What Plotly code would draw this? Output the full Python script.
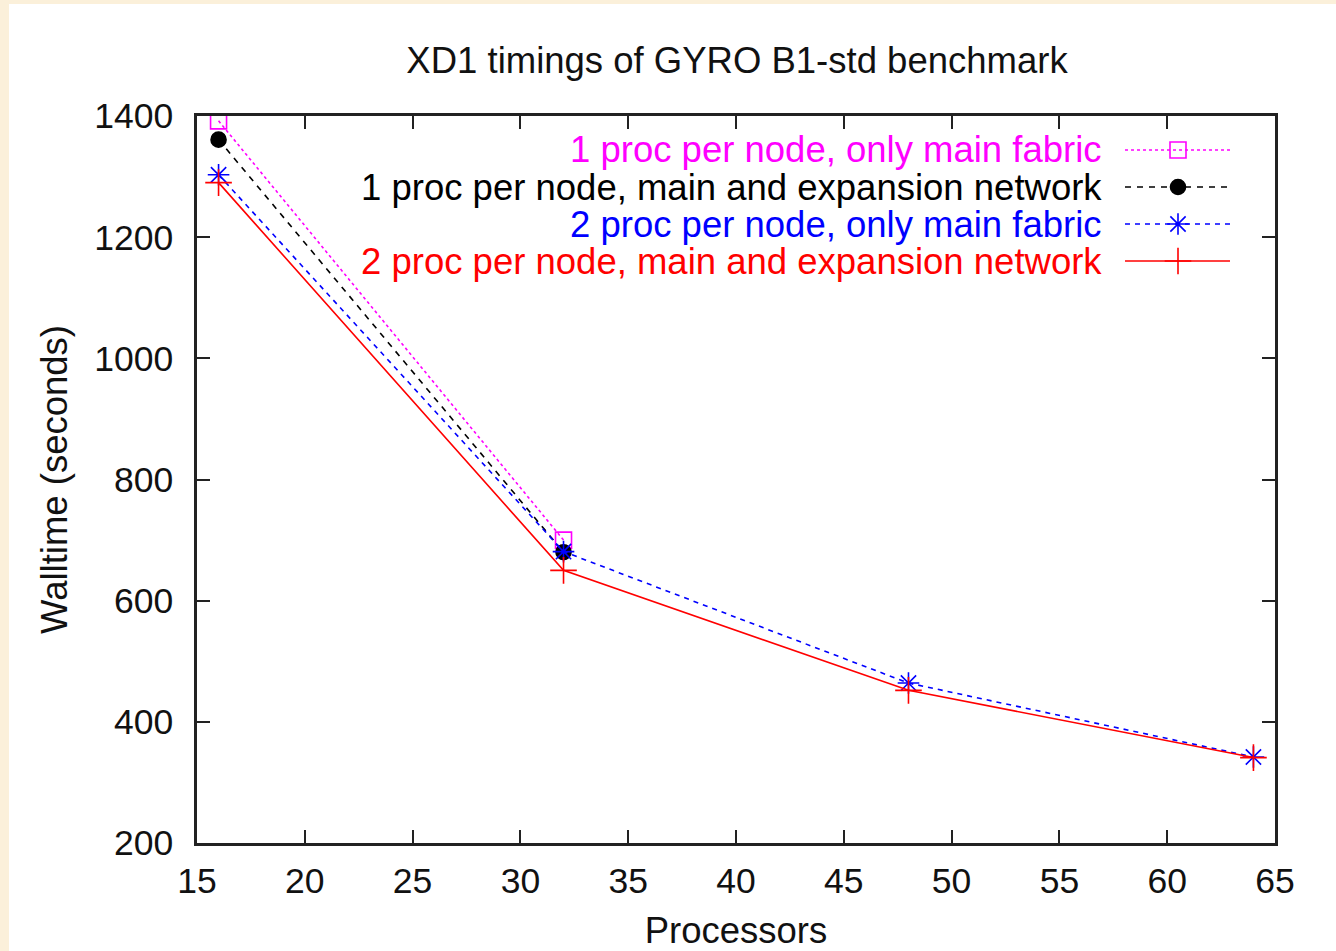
import plotly.graph_objects as go

# ---- data ----
procs_1ppn = [16, 32]
procs_2ppn = [16, 32, 48, 64]
t_1ppn_main = [1392, 700]
t_1ppn_main_exp = [1361, 680]
t_2ppn_main = [1303, 681, 464, 342]
t_2ppn_main_exp = [1290, 650, 452, 341]

labels = [
    "1 proc per node, only main fabric",
    "1 proc per node, main and expansion network",
    "2 proc per node, only main fabric",
    "2 proc per node, main and expansion network",
]
colors = ["#ff00ff", "#000000", "#0000ff", "#ff0000"]
dashes = ["dot", "6px,6px", "5px,5px", "solid"]
symbols = ["square-open", "circle", "asterisk-open", "cross-thin-open"]
msizes = [16, 15, 18, 19]

series_x = [procs_1ppn, procs_1ppn, procs_2ppn, procs_2ppn]
series_y = [t_1ppn_main, t_1ppn_main_exp, t_2ppn_main, t_2ppn_main_exp]

FONT = "Liberation Sans, Arial, sans-serif"
W, H = 1336, 951
L, R, T, B = 197, 61, 116, 108
pw, ph = W - L - R, H - T - B

def px2fx(px):
    return (px - L) / pw

def py2fy(py):
    return (H - B - py) / ph

fig = go.Figure()
for i in range(4):
    fig.add_trace(go.Scatter(
        x=series_x[i], y=series_y[i], mode="lines+markers",
        line=dict(color=colors[i], width=1.6, dash=dashes[i]),
        marker=dict(symbol=symbols[i], size=msizes[i], color=colors[i],
                    line=dict(color=colors[i], width=1.6)),
        showlegend=False, name=labels[i]))

# custom legend (text right, sample on the right) drawn on an overlay axis
row_py = [150, 187, 224, 261]
lx0, lx1, lxm = px2fx(1125), px2fx(1230), px2fx(1178)
for i in range(4):
    fy = py2fy(row_py[i])
    fig.add_trace(go.Scatter(
        x=[lx0, lxm, lx1], y=[fy, fy, fy], xaxis="x2", yaxis="y2",
        mode="lines", line=dict(color=colors[i], width=1.6, dash=dashes[i]),
        showlegend=False, hoverinfo="skip"))
    fig.add_trace(go.Scatter(
        x=[lxm], y=[fy], xaxis="x2", yaxis="y2", mode="markers",
        marker=dict(symbol=symbols[i], size=msizes[i], color=colors[i],
                    line=dict(color=colors[i], width=1.6)),
        showlegend=False, hoverinfo="skip"))
    fig.add_annotation(x=px2fx(1104), y=fy, xref="paper", yref="paper",
                       text=labels[i], showarrow=False, xanchor="right",
                       yanchor="middle",
                       font=dict(color=colors[i], size=36.5, family=FONT))

# white panel on the beige page
fig.add_shape(type="rect", xref="paper", yref="paper", layer="below",
              x0=px2fx(9), x1=px2fx(W + 5), y0=py2fy(H + 5), y1=py2fy(4),
              fillcolor="white", line=dict(width=0))

axis_common = dict(showgrid=False, zeroline=False, showline=True,
                   linecolor="#222222", linewidth=2.5, mirror="ticks",
                   ticks="inside", ticklen=13, tickwidth=2, tickcolor="#222222",
                   tickfont=dict(size=35.5, color="#111111", family=FONT))

fig.update_layout(
    width=W, height=H,
    margin=dict(l=L, r=R, t=T, b=B, autoexpand=False),
    paper_bgcolor="#fbf0da",
    plot_bgcolor="white",
    font=dict(family=FONT, size=36.5, color="#111111"),
    title=dict(text="XD1 timings of GYRO B1-std benchmark", x=737 / W,
               xanchor="center", y=1 - 60 / H, yanchor="middle",
               font=dict(size=36.5, color="#111111")),
    xaxis=dict(range=[15, 65], tickvals=[15, 20, 25, 30, 35, 40, 45, 50, 55, 60, 65],
               ticklabelstandoff=5,
               title=dict(text="Processors", standoff=25, font=dict(size=36.5)),
               **axis_common),
    yaxis=dict(range=[200, 1400], tickvals=[200, 400, 600, 800, 1000, 1200, 1400],
               ticklabelstandoff=14,
               title=dict(text="Walltime (seconds)", standoff=16, font=dict(size=36.5)),
               **axis_common),
    xaxis2=dict(overlaying="x", range=[0, 1], visible=False, anchor="y2"),
    yaxis2=dict(overlaying="y", range=[0, 1], visible=False, anchor="x2"),
)

fig.write_html(
    "out.html",
    config={"displayModeBar": False},
    post_script="document.body.style.margin='0';document.body.style.background='#fbf0da';",
)
